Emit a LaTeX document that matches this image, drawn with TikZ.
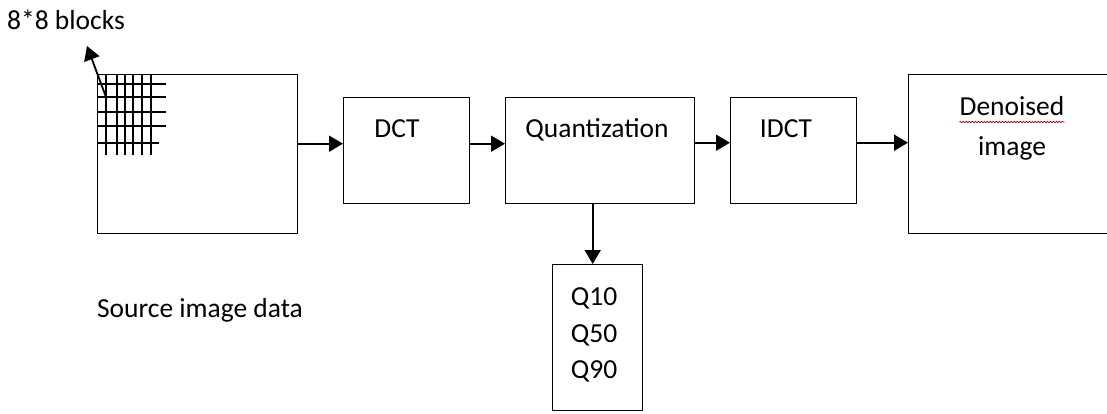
\documentclass[tikz,border=0pt]{standalone}
\usepackage{fontspec}
\setmainfont{Carlito}
\usetikzlibrary{arrows.meta,decorations.pathmorphing}
\begin{document}
\begin{tikzpicture}[x=1pt,y=-1pt,font=\fontsize{27.5}{32}\selectfont]
\tikzset{box/.style = {draw,line width=1.4pt,inner sep=0pt,anchor=north west},
  flow/.style = {-{Triangle[length=14pt,width=16pt]},line width=1.8pt},
  gridline/.style = {line width=1.6pt},
  lbl/.style = {anchor=base,inner sep=0pt}}
\useasboundingbox (0,0) rectangle (1107,414);
% boxes
\node[box,minimum width=200pt,minimum height=159pt](src) at (97,74) {};
\node[box,minimum width=126pt,minimum height=106pt](dct) at (343,97) {};
\node[box,minimum width=189pt,minimum height=106pt](quant) at (505,97) {};
\node[box,minimum width=126pt,minimum height=106pt](idct) at (730,97) {};
\node[box,minimum width=210pt,minimum height=159pt](den) at (908,74) {};
\node[box,minimum width=90pt,minimum height=146pt](qbox) at (552,264) {};
% 8*8 grid
\foreach \x in {106,117,125,133,142,151} \draw[gridline] (\x,74) -- (\x,155);
\foreach \y in {84,97,112,126} \draw[gridline] (97,\y) -- (166,\y);
\draw[gridline] (97,143) -- (159,143);
% labels
\node[lbl](blocks) at (66,30) {8*8 blocks};
\node[lbl](dcttxt) at (397,138) {DCT};
\node[lbl](quanttxt) at (597,138) {Quantization};
\node[lbl](idcttxt) at (786,138) {IDCT};
\node[lbl](dentxt) at (1012,116) {Denoised};
\node[lbl](imgtxt) at (1012,156) {image};
\node[lbl](q10) at (594,305) {Q10};
\node[lbl](q50) at (594,342) {Q50};
\node[lbl](q90) at (594,378) {Q90};
\node[lbl](srctxt) at (200,317) {Source image data};
\draw[red!70!black,line width=0.6pt,decorate,decoration={snake,amplitude=0.8pt,segment length=3pt}]
  ([yshift=-6pt]dentxt.base west) -- ([yshift=-6pt]dentxt.base east);
% arrows
\coordinate (gridpt) at (106,97);
\coordinate (blocktip) at (87,46);
\draw[flow] (gridpt) -- (blocktip);
\draw[flow] ([yshift=10.5pt]src.east) -- ([yshift=7pt]dct.west);
\draw[flow] ([yshift=7pt]dct.east) -- ([yshift=7pt]quant.west);
\draw[flow] ([yshift=8pt]quant.east) -- ([yshift=8pt]idct.west);
\draw[flow] ([yshift=8pt]idct.east) -- ([yshift=11.5pt]den.west);
\draw[flow] ([xshift=-7.5pt]quant.south) -- ([xshift=-5pt]qbox.north);
\end{tikzpicture}
\end{document}
